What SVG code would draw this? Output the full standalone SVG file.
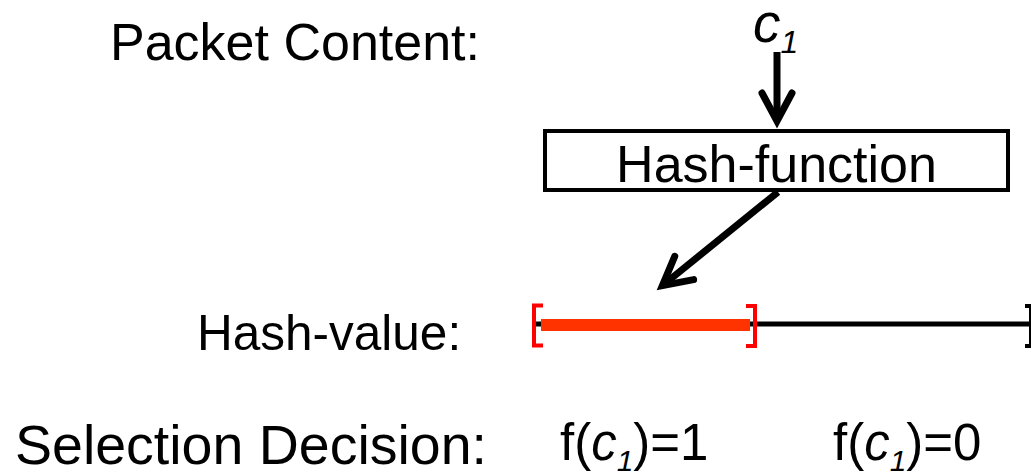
<svg xmlns="http://www.w3.org/2000/svg" width="1031" height="472" viewBox="0 0 1031 472">
<style>
text{font-family:"Liberation Sans",Arial,sans-serif;fill:#000}
.lbl{font-size:52px}
.it{font-style:italic}
.arrow{stroke:#000;stroke-width:7;fill:none}
.brk{stroke-width:4;fill:none}
</style>
<defs>
<marker id="ah" markerUnits="userSpaceOnUse" viewBox="-40 -24 50 48" markerWidth="50" markerHeight="48" refX="0" refY="0" orient="auto">
<path d="M-28,-15 L0,0 L-28,15" stroke="#000" stroke-width="7" fill="none" stroke-linecap="round" stroke-linejoin="miter"/>
</marker>
</defs>
<rect width="1031" height="472" fill="#fff"/>
<g id="label-packet"><text class="lbl" x="110" y="60">Packet Content:</text></g>
<g id="c1"><text class="it" x="753" y="42" font-size="55">c<tspan font-size="32" dy="11">1</tspan></text></g>
<g id="hash-function">
<rect x="545" y="131" width="463" height="59" fill="#fff" stroke="#000" stroke-width="4"/>
<text class="lbl" x="776.5" y="182" text-anchor="middle" font-size="53">Hash-function</text>
</g>
<g id="label-hashvalue"><text x="197" y="350" font-size="49.5">Hash-value:</text></g>
<g id="hash-range">
<line x1="534" y1="324" x2="1031" y2="324" stroke="#000" stroke-width="5"/>
<rect x="541" y="319" width="209" height="12" fill="#FF3300"/>
<path class="brk" stroke="#FF0000" d="M543,305.5 H534 V345.5 H543"/>
<path class="brk" stroke="#FF0000" d="M746,306 H755 V346 H746"/>
<path class="brk" stroke="#000" d="M1025,306 H1031 V346 H1025"/>
</g>
<g id="label-selection"><text x="15" y="464" font-size="55.5">Selection Decision:</text></g>
<g id="decision-1"><text x="560" y="460" font-size="51">f(<tspan class="it">c</tspan><tspan class="it" font-size="30" dy="11">1</tspan><tspan dy="-11">)=1</tspan></text></g>
<g id="decision-0"><text x="833" y="460" font-size="51">f(<tspan class="it">c</tspan><tspan class="it" font-size="30" dy="11">1</tspan><tspan dy="-11">)=0</tspan></text></g>
<g id="connectors">
<line class="arrow" x1="777" y1="52" x2="777" y2="121" marker-end="url(#ah)"/>
<line class="arrow" x1="778" y1="192" x2="662.4" y2="285.6" marker-end="url(#ah)"/>
</g>
</svg>
